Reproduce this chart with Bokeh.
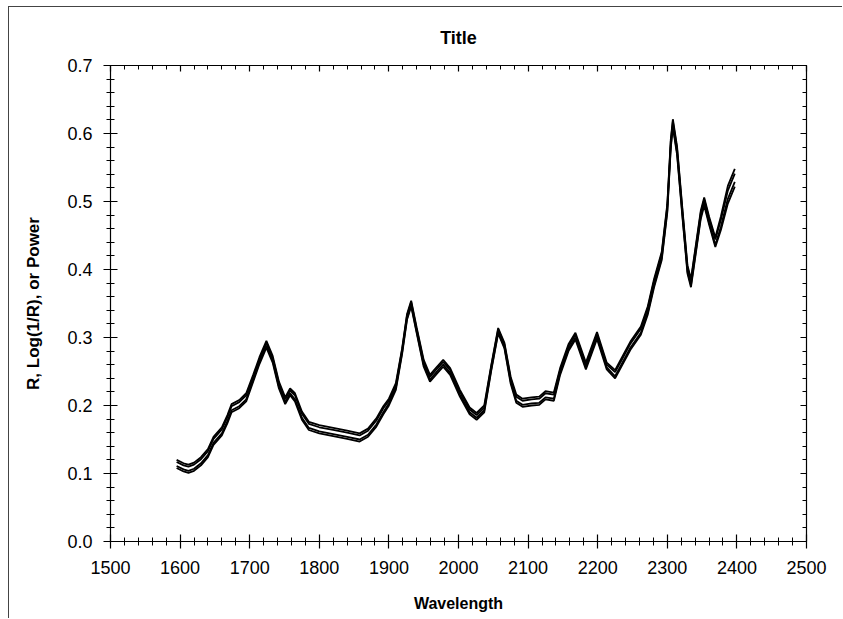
from bokeh.plotting import figure
from bokeh.models import (LinearAxis, Range1d, SingleIntervalTicker,
                          PrintfTickFormatter, CustomJSTickFormatter)
from bokeh.embed import file_html
from bokeh.resources import INLINE

wavelength = [1595, 1605, 1612, 1620, 1630, 1640, 1648, 1660, 1668, 1674, 1685, 1695,
              1705, 1714, 1724, 1733, 1742, 1751, 1758, 1765, 1775, 1785, 1800, 1820,
              1840, 1858, 1870, 1882, 1892, 1900, 1910, 1919, 1926, 1932, 1940, 1950,
              1959, 1969, 1978, 1988, 2002, 2016, 2026, 2037, 2047, 2057, 2066, 2075,
              2083, 2092, 2105, 2116, 2125, 2137, 2146, 2158, 2168, 2183, 2199, 2213,
              2225, 2235, 2247, 2262, 2272, 2281, 2292, 2300, 2305, 2308, 2314, 2322,
              2329, 2334, 2341, 2348, 2353, 2360, 2369, 2377, 2387, 2397]

spectrum_a = [.120, .115, .113, .116, .124, .136, .154, .168, .186, .202, .208, .218,
              .245, .271, .295, .273, .235, .212, .225, .218, .191, .176, .171, .167,
              .163, .159, .166, .181, .199, .210, .233, .284, .334, .354, .314, .267,
              .245, .257, .267, .255, .223, .197, .189, .200, .259, .314, .292, .242,
              .216, .210, .212, .213, .221, .219, .255, .290, .307, .263, .308, .263,
              .252, .271, .294, .316, .346, .386, .426, .496, .591, .621, .581, .486,
              .406, .386, .436, .486, .506, .478, .447, .478, .523, .548]

spectrum_b = [.117, .112, .110, .113, .121, .133, .151, .165, .183, .199, .205, .215,
              .242, .268, .292, .270, .232, .209, .222, .215, .188, .173, .168, .164,
              .160, .156, .163, .178, .196, .207, .230, .282, .332, .352, .312, .264,
              .242, .254, .264, .252, .220, .194, .186, .197, .257, .312, .290, .239,
              .213, .207, .209, .210, .218, .216, .252, .287, .304, .260, .305, .260,
              .249, .268, .291, .313, .343, .383, .423, .493, .588, .618, .578, .483,
              .403, .383, .433, .483, .503, .475, .444, .473, .516, .541]

spectrum_c = [.111, .106, .104, .107, .115, .127, .145, .159, .177, .193, .199, .209,
              .238, .264, .288, .266, .228, .205, .218, .209, .182, .167, .162, .158,
              .154, .150, .157, .172, .190, .203, .226, .278, .328, .348, .308, .260,
              .238, .250, .260, .248, .216, .190, .182, .193, .253, .308, .286, .235,
              .207, .201, .203, .204, .212, .210, .248, .283, .300, .256, .301, .256,
              .243, .262, .285, .307, .337, .377, .417, .487, .582, .612, .572, .477,
              .397, .377, .427, .477, .497, .469, .436, .463, .504, .529]

spectrum_d = [.108, .103, .101, .104, .112, .124, .142, .156, .174, .190, .196, .206,
              .235, .261, .285, .263, .225, .202, .215, .206, .179, .164, .159, .155,
              .151, .147, .154, .169, .187, .200, .223, .276, .326, .346, .306, .257,
              .235, .247, .257, .245, .213, .187, .179, .190, .251, .306, .284, .232,
              .204, .198, .200, .201, .209, .207, .245, .280, .297, .253, .298, .253,
              .240, .259, .282, .304, .334, .374, .414, .484, .579, .609, .569, .474,
              .394, .374, .424, .474, .494, .466, .433, .458, .497, .522]

series = [spectrum_a, spectrum_b, spectrum_c, spectrum_d]

title_text = "Title"
x_title = "Wavelength"
y_title = "R, Log(1/R), or Power"

FONT = "Liberation Sans"

p = figure(width=834, height=612, output_backend="svg", toolbar_location=None,
           x_range=Range1d(1500, 2500), y_range=Range1d(0, 0.70001),
           min_border_left=101, min_border_right=37, min_border_top=57,
           min_border_bottom=78, background_fill_color="white",
           border_fill_color="white", outline_line_color=None)
p.styles = {"border-left": "1px solid #444444", "border-top": "1px solid #444444",
            "margin-left": "8px", "margin-top": "6px"}

p.title.text = title_text
p.title.align = "center"
p.title.text_font = FONT
p.title.text_font_style = "bold"
p.title.text_font_size = "18px"
p.title.text_color = "black"
p.title.standoff = 36

for ys in series:
    p.line(wavelength, ys, line_color="black", line_width=1.8)

p.xgrid.grid_line_color = None
p.ygrid.grid_line_color = None

def style_axis(ax, labels=True, tin=7, tout=7, min_in=4, min_out=4):
    ax.axis_line_color = "black"
    ax.axis_line_width = 1.2
    ax.major_tick_line_color = "black"
    ax.minor_tick_line_color = "black"
    ax.major_tick_line_width = 1.2
    ax.major_tick_in = tin
    ax.major_tick_out = tout
    ax.minor_tick_in = min_in
    ax.minor_tick_out = min_out
    ax.major_label_text_font = FONT
    ax.major_label_text_color = "black"
    ax.axis_label_text_font = FONT
    ax.axis_label_text_font_style = "bold"
    ax.axis_label_text_color = "black"
    if not labels:
        ax.formatter = CustomJSTickFormatter(code="return ''")
        ax.major_label_standoff = 0
        ax.major_label_text_font_size = "1px"

xax = p.xaxis[0]
xax.ticker = SingleIntervalTicker(interval=100, num_minor_ticks=5)
style_axis(xax)
xax.major_label_text_font_size = "18px"
xax.major_label_standoff = 12
xax.axis_label = x_title
xax.axis_label_text_font_size = "16px"
xax.axis_label_standoff = 18

yax = p.yaxis[0]
yax.ticker = SingleIntervalTicker(interval=0.1, num_minor_ticks=5)
yax.formatter = PrintfTickFormatter(format="%.1f")
style_axis(yax)
yax.major_label_text_font_size = "18px"
yax.major_label_standoff = 11
yax.axis_label = y_title
yax.axis_label_text_font_size = "17px"
yax.axis_label_standoff = 21

top = LinearAxis(ticker=SingleIntervalTicker(interval=100, num_minor_ticks=5))
style_axis(top, labels=False, tin=6, tout=0, min_in=4, min_out=0)
p.add_layout(top, "above")

right = LinearAxis(ticker=SingleIntervalTicker(interval=0.1, num_minor_ticks=5))
style_axis(right, labels=False, tin=6, tout=0, min_in=4, min_out=0)
p.add_layout(right, "right")

open("out.html", "w").write(file_html(p, INLINE))
